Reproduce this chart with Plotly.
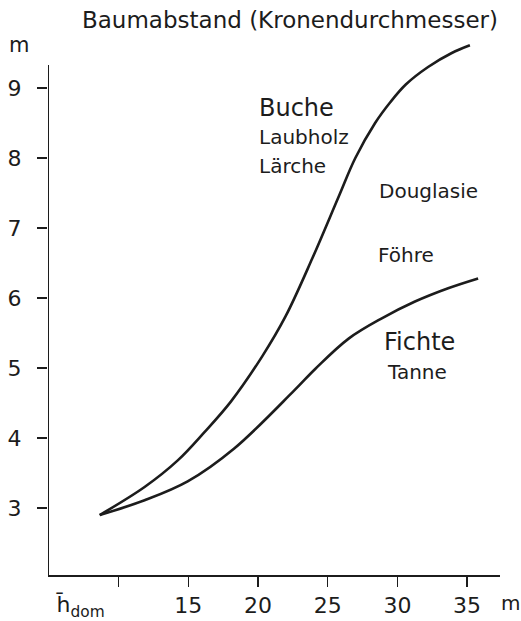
import plotly.graph_objects as go

# Data
buche_x = [8.64, 11.86, 14.24, 16.14, 18.05, 20.31, 21.98, 23.88, 25.79, 26.98, 28.4, 29.5, 30.6, 32.2, 33.9, 35.2]
buche_y = [2.90, 3.30, 3.68, 4.08, 4.52, 5.17, 5.74, 6.56, 7.45, 8.00, 8.50, 8.80, 9.05, 9.30, 9.50, 9.61]

fichte_x = [8.64, 11.86, 14.95, 18.29, 22.6, 24.12, 26.5, 28.88, 31.26, 33.64, 35.79]
fichte_y = [2.90, 3.11, 3.38, 3.85, 4.68, 4.99, 5.42, 5.71, 5.95, 6.14, 6.28]

x_tickvals = [15, 20, 25, 30, 35]
x_minor_tick = [10]
y_tickvals = [3, 4, 5, 6, 7, 8, 9]

labels = ["Buche", "Laubholz", "Lärche", "Douglasie", "Föhre", "Fichte", "Tanne"]
label_x = [19.93, 19.93, 19.93, 28.5, 28.43, 28.86, 29.14]
label_y = [8.71, 8.30, 7.89, 7.53, 6.61, 5.37, 4.94]
label_size = [24, 20, 20, 20, 20, 24, 20]

FONT = "DejaVu Sans"
INK = "#1c1c1c"

X0, X1 = 4.93, 37.36
Y0, Y1 = 2.043, 9.757
Y_AXIS_TOP = 9.33

fig = go.Figure()
for xs, ys in [(buche_x, buche_y), (fichte_x, fichte_y)]:
    fig.add_trace(go.Scatter(x=xs, y=ys, mode="lines",
                             line=dict(color=INK, width=2.6, shape="spline", smoothing=1.0),
                             hoverinfo="skip", showlegend=False))

for t, xv, yv, s in zip(labels, label_x, label_y, label_size):
    fig.add_annotation(x=xv, y=yv, text=t, showarrow=False, xanchor="left", yanchor="middle",
                       font=dict(family=FONT, size=s, color=INK))

# y axis line (shorter than the plotting range, as in the original)
fig.add_shape(type="line", xref="x", yref="y", x0=X0, x1=X0, y0=Y0, y1=Y_AXIS_TOP,
              line=dict(color=INK, width=2))

# Title and axis units
fig.add_annotation(xref="paper", yref="paper", x=0.535, y=1.0, yshift=15,
                   text="Baumabstand (Kronendurchmesser)",
                   showarrow=False, xanchor="center", yanchor="middle",
                   font=dict(family=FONT, size=23, color=INK))
fig.add_annotation(xref="paper", yref="paper", x=0, xshift=-29, y=1.0, yshift=-10, text="m",
                   showarrow=False, xanchor="center", yanchor="middle",
                   font=dict(family=FONT, size=21, color=INK))
fig.add_annotation(xref="paper", yref="paper", x=1.0, xshift=10, y=0, yshift=-28, text="m",
                   showarrow=False, xanchor="center", yanchor="middle",
                   font=dict(family=FONT, size=20, color=INK))
fig.add_annotation(xref="paper", yref="paper", x=0, xshift=6, y=0, yshift=-31,
                   text="h\u0304<sub>dom</sub>",
                   showarrow=False, xanchor="left", yanchor="middle",
                   font=dict(family=FONT, size=22, color=INK))

fig.update_xaxes(range=[X0, X1], tickvals=x_tickvals, automargin=False,
                 showline=True, linecolor=INK, linewidth=2, ticks="outside", ticklen=10,
                 tickwidth=1.5, tickcolor=INK, showgrid=False, zeroline=False,
                 minor=dict(tickvals=x_minor_tick, ticks="outside", ticklen=10,
                            tickwidth=1.5, tickcolor=INK, showgrid=False),
                 tickfont=dict(family=FONT, size=22, color=INK))
fig.update_yaxes(range=[Y0, Y1], tickvals=y_tickvals, automargin=False,
                 showline=False, ticks="outside", ticklen=10,
                 tickwidth=1.5, tickcolor=INK, showgrid=False, zeroline=False,
                 ticklabelstandoff=11,
                 tickfont=dict(family=FONT, size=22, color=INK))

fig.update_layout(width=521, height=621, autosize=False,
                  margin=dict(l=48, r=21, t=35, b=46),
                  plot_bgcolor="white", paper_bgcolor="white")

# remove the default page margin so the figure fills the 521x621 window exactly
fig.write_html("out.html",
               config={"displayModeBar": False, "staticPlot": True},
               post_script="document.body.style.margin='0';document.body.style.overflow='hidden';")
